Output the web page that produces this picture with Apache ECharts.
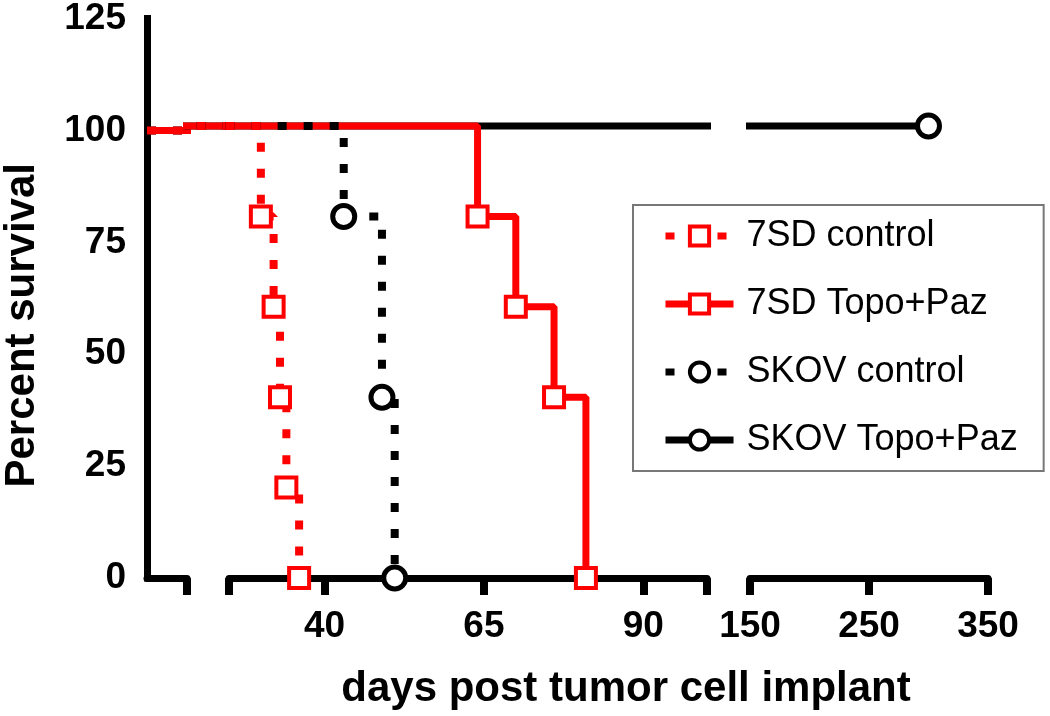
<!DOCTYPE html>
<html>
<head>
<meta charset="utf-8">
<script src="https://cdn.jsdelivr.net/npm/echarts@6/dist/echarts.min.js"></script>
<style>
  html, body { margin: 0; padding: 0; background: #fff; }
  #chart { width: 1050px; height: 716px; }
</style>
</head>
<body>
<div id="chart"></div>
<script>
// ---------------- data ----------------
const seriesNames = ['7SD control', '7SD Topo+Paz', 'SKOV control', 'SKOV Topo+Paz'];

const sd7CtrlDays = [0, 30, 32, 33, 34, 36];
const sd7CtrlSurv = [100, 80, 60, 40, 20, 0];

const sd7TxDays = [0, 64, 70, 76, 81];
const sd7TxSurv = [100, 80, 60, 40, 0];

const skovCtrlDays = [0, 43, 49, 51];
const skovCtrlSurv = [100, 80, 40, 0];

const skovTxDays = [0, 300];
const skovTxSurv = [100, 100];

// broken x axis: segment ranges (days)
const segRanges = [[0, 7], [7, 25], [25, 100], [150, 350]];
const segTicks = [[7], [], [25, 40, 65, 90, 100], [150, 250, 350]];
const segLabels = [[], [], [40, 65, 90], [150, 250, 350]];
const segAxisVisible = [true, false, true, true];

const yMin = 0, yMax = 125, yStep = 25;

const xTitle = 'days post tumor cell implant';
const yTitle = 'Percent survival';

// ---------------- layout ----------------
const FONT = '"Liberation Sans", Arial, sans-serif';
const gridLeft = [145, 187, 229, 750];
const gridWidth = [42, 42, 478, 238];
const gridTop = 13, gridHeight = 565;

const styles = {
  '7SD control':   { color: '#ff0000', symbol: 'rect',   size: 20, border: 4, dash: [9, 17], width: 8 },
  '7SD Topo+Paz':  { color: '#ff0000', symbol: 'rect',   size: 20, border: 4, dash: 'solid', width: 7 },
  'SKOV control':  { color: '#000000', symbol: 'circle', size: 22, border: 5, dash: [9, 17], width: 8 },
  'SKOV Topo+Paz': { color: '#000000', symbol: 'circle', size: 22, border: 5, dash: 'solid', width: 7 }
};

const seriesData = {
  '7SD control':   [sd7CtrlDays, sd7CtrlSurv],
  '7SD Topo+Paz':  [sd7TxDays, sd7TxSurv],
  'SKOV control':  [skovCtrlDays, skovCtrlSurv],
  'SKOV Topo+Paz': [skovTxDays, skovTxSurv]
};

// draw order (bottom to top)
const drawOrder = ['SKOV Topo+Paz', '7SD Topo+Paz', 'SKOV control', '7SD control'];

const grids = [], xAxes = [], yAxes = [], series = [];

for (let g = 0; g < segRanges.length; g++) {
  grids.push({ left: gridLeft[g], width: gridWidth[g], top: gridTop, height: gridHeight, containLabel: false });
  const vis = segAxisVisible[g];
  xAxes.push({
    type: 'value', gridIndex: g, min: segRanges[g][0], max: segRanges[g][1],
    position: 'bottom', z: 3,
    show: vis,
    axisLine: { show: vis, onZero: false, lineStyle: { color: '#000', width: 7 } },
    axisTick: { show: vis && segTicks[g].length > 0, customValues: segTicks[g], length: 17,
                lineStyle: { color: '#000', width: 8 } },
    axisLabel: { show: vis && segLabels[g].length > 0, customValues: segLabels[g], margin: 30,
                 color: '#000', fontSize: 37, fontWeight: 'bold', fontFamily: FONT },
    splitLine: { show: false }
  });
  const isMainY = g === 0;
  yAxes.push({
    type: 'value', gridIndex: g, min: yMin, max: yMax, interval: yStep,
    show: isMainY, z: 3,
    axisLine: { show: isMainY, lineStyle: { color: '#000', width: 7, cap: 'square' } },
    axisTick: { show: false },
    axisLabel: { show: isMainY, margin: 21, color: '#000', fontSize: 37, fontWeight: 'bold', fontFamily: FONT },
    splitLine: { show: false },
    name: isMainY ? yTitle : '',
    nameLocation: 'middle', nameRotate: 90, nameGap: 104,
    nameTextStyle: { color: '#000', fontSize: 42, fontWeight: 'bold', fontFamily: FONT, padding: [0, 54, 0, 0] }
  });

  drawOrder.forEach(name => {
    const st = styles[name];
    const [days, surv] = seriesData[name];
    const data = days.map((d, i) => i === 0 ? { value: [d, surv[i]], symbol: 'none' } : [d, surv[i]]);
    series.push({
      name: name, type: 'line', step: 'end',
      xAxisIndex: g, yAxisIndex: g,
      data: data, clip: true,
      symbol: st.symbol, symbolSize: st.size, showAllSymbol: true,
      lineStyle: { color: st.color, width: st.width, type: st.dash, cap: 'butt' },
      itemStyle: { color: '#ffffff', borderColor: st.color, borderWidth: st.border },
      emphasis: { disabled: true },
      animation: false
    });
  });
}

const legendData = seriesNames.map(name => {
  const st = styles[name];
  return {
    name: name,
    lineStyle: { color: st.color, width: 7, type: st.dash, cap: 'butt' },
    itemStyle: { color: '#ffffff', borderColor: st.color, borderWidth: 4 }
  };
});

const chart = echarts.init(document.getElementById('chart'), null, { renderer: 'canvas' });
chart.setOption({
  animation: false,
  backgroundColor: '#ffffff',
  textStyle: { fontFamily: FONT },
  title: {
    text: xTitle, left: 621, top: 663, textAlign: 'center',
    textStyle: { color: '#000', fontSize: 42, fontWeight: 'bold', fontFamily: FONT }
  },
  legend: {
    data: legendData, orient: 'vertical', left: 633, top: 205,
    itemWidth: 68, itemHeight: 24, itemGap: 32,
    padding: [13, 26, 13, 29],
    borderColor: '#777', borderWidth: 2, backgroundColor: '#fff',
    selectedMode: false,
    textStyle: { color: '#000', fontSize: 36, fontFamily: FONT, padding: [0, 0, 0, 8] }
  },
  grid: grids,
  xAxis: xAxes,
  yAxis: yAxes,
  series: series
});
</script>
</body>
</html>
